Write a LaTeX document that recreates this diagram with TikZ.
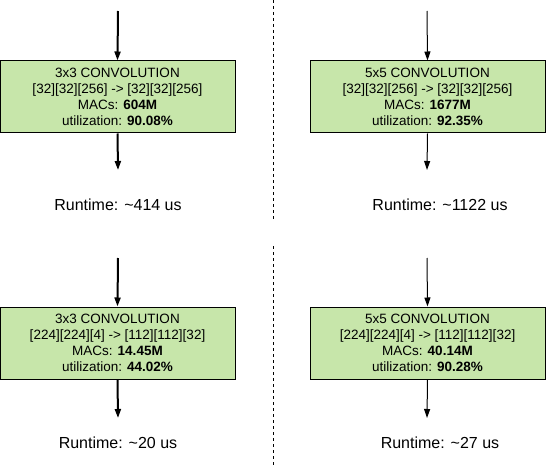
\documentclass[tikz,border=0pt]{standalone}
\usepackage{fontspec}
\setmainfont{Liberation Sans}
\usepackage{tikz}
\usetikzlibrary{arrows.meta}
\definecolor{convgreen}{RGB}{199,230,170}

\begin{document}
\begin{tikzpicture}[x=1pt,y=-1pt,
  convbox/.style={draw,fill=convgreen,line width=1pt,minimum width=235pt,minimum height=72pt,
    inner sep=0pt,align=center,font=\fontsize{13.5}{16}\selectfont},
  runtime/.style={font=\fontsize{16}{19}\selectfont,inner sep=0pt},
  flow/.style={-{Triangle[width=6pt,length=9pt]}},
  split/.style={dash pattern=on 3pt off 3pt,line width=1pt}]
\useasboundingbox (0,0) rectangle (546,468);
% upper row
\coordinate (ina) at (118,11);\coordinate (outa) at (118,170);
\node[convbox] (conva) at (117.5,97) {3x3 CONVOLUTION\\{}[32][32][256] -> [32][32][256]\\ MACs: \textbf{604M}\\ utilization: \textbf{90.08\%}};
\node[runtime] (runa) at (118,205) {Runtime: \textasciitilde414 us};
\coordinate (inb) at (427,11);\coordinate (outb) at (427,170);
\node[convbox] (convb) at (427.5,97) {5x5 CONVOLUTION\\{}[32][32][256] -> [32][32][256]\\ MACs: \textbf{1677M}\\ utilization: \textbf{92.35\%}};
\node[runtime] (runb) at (440,205) {Runtime: \textasciitilde1122 us};
% lower row
\coordinate (inc) at (118,258);\coordinate (outc) at (118,418);
\node[convbox] (convc) at (117.5,343) {3x3 CONVOLUTION\\{}[224][224][4] -> [112][112][32]\\ MACs: \textbf{14.45M}\\ utilization: \textbf{44.02\%}};
\node[runtime] (runc) at (118,443) {Runtime: \textasciitilde20 us};
\coordinate (ind) at (427,258);\coordinate (outd) at (427,418);
\node[convbox] (convd) at (427.5,343) {5x5 CONVOLUTION\\{}[224][224][4] -> [112][112][32]\\ MACs: \textbf{40.14M}\\ utilization: \textbf{90.28\%}};
\node[runtime] (rund) at (440,443) {Runtime: \textasciitilde27 us};
\draw[flow,line width=2pt] (ina)--(conva.north);
\draw[flow,line width=2pt] (conva.south)--(outa);
\draw[flow,line width=2pt] (inc)--(convc.north);
\draw[flow,line width=2pt] (convc.south)--(outc);
\draw[flow,line width=1pt] (inb)--(convb.north);
\draw[flow,line width=1pt] (convb.south)--(outb);
\draw[flow,line width=1pt] (ind)--(convd.north);
\draw[flow,line width=1pt] (convd.south)--(outd);
% separators
\coordinate (sepa) at (273,0);\coordinate (sepb) at (273,220);
\coordinate (sepc) at (273,246);\coordinate (sepd) at (273,468);
\draw[split] (sepa)--(sepb) (sepc)--(sepd);
\end{tikzpicture}
\end{document}
